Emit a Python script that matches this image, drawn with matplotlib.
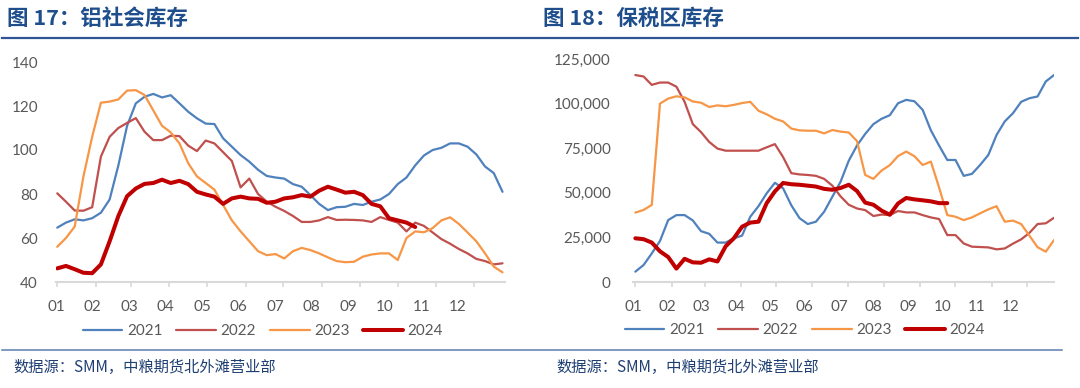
import numpy as np
import matplotlib.pyplot as plt
from matplotlib.lines import Line2D
from matplotlib.ticker import FuncFormatter

plt.rcParams['font.family'] = ['Lato', 'Noto Sans CJK SC', 'DejaVu Sans']

# 年份与样式
years = ['2021', '2022', '2023', '2024']
colors = ['#4F81BD', '#C0504D', '#F79646', '#C00000']
widths = [1.6, 1.6, 1.6, 2.9]

months = ['01', '02', '03', '04', '05', '06', '07', '08', '09', '10', '11', '12']
month_start = [0, 31, 59, 90, 120, 151, 181, 212, 243, 273, 304, 334]

# 图17：铝社会库存（万吨，周度）
al_2021 = [64.7, 67, 68.5, 68, 69, 71.5, 77.5, 93, 111, 121.2, 124.2, 125.5, 123.9,
           124.9, 121.2, 117.4, 114.4, 112, 111.8, 105.3, 101.5, 97.7, 94.7, 91, 88.2,
           87.5, 87, 84.5, 83.3, 79.5, 75.5, 72.7, 74, 74.2, 75.5, 75, 76.5, 77.5, 80,
           84.5, 87.5, 93, 97.5, 100, 101, 103, 103, 101.5, 98, 92.5, 89.5, 81]
al_2022 = [80.3, 76.5, 72.5, 72.4, 74, 97, 106, 110, 112.3, 114.5, 108.3, 104.5, 104.5,
           106.5, 106.3, 102, 99.5, 104.3, 103, 99, 95, 83, 87, 80, 76.5, 74.2, 72.3, 70,
           67.3, 67.3, 68, 69.5, 68.2, 68.3, 68.2, 68, 67.3, 69.5, 68.2, 67, 63, 67, 65.5,
           62.5, 59.5, 57.4, 55, 53, 50.5, 49.5, 48, 48.5]
al_2023 = [56, 60, 65.2, 88, 106, 121.5, 122, 123, 127, 127.2, 125, 118, 111, 108, 103,
           94, 88, 85, 82, 75, 68, 63, 58.5, 54, 52.2, 52.7, 50.7, 54, 55.5, 54.5, 53,
           51.2, 49.5, 49, 49.2, 51.5, 52.5, 53, 53, 50, 60, 63, 62.6, 64.5, 68, 69.4,
           66.4, 62.5, 58.5, 53, 47, 44.4]
al_2024 = [46.2, 47.3, 45.8, 44.2, 44, 48, 58.5, 70, 79, 82.5, 84.6, 85, 86.5, 85, 86,
           84.5, 81, 79.8, 78.8, 75.5, 78, 78.8, 78, 77.8, 76, 76.5, 78, 78.5, 79.5, 78.8,
           81.5, 83.3, 82, 80.6, 81, 79.5, 75.5, 74.4, 69, 68, 67, 65]

# 图18：保税区库存（吨，周度）
bond_2021 = [5800, 9500, 16000, 23000, 34700, 37500, 37500, 34500, 28500, 27000, 22100,
             22100, 24500, 26000, 36600, 42500, 49700, 55600, 52500, 43000, 35800, 32500,
             33800, 39400, 47800, 56200, 68000, 76500, 83000, 88500, 91500, 93500, 100200,
             102100, 101300, 96500, 85000, 76500, 68400, 68400, 59500, 60600, 65600, 71200,
             82400, 90000, 94600, 101000, 103000, 104000, 112400, 116000]
bond_2022 = [116000, 115200, 110500, 111800, 111800, 109500, 101000, 88500, 84000, 78500,
             74800, 73600, 73600, 73600, 73600, 73600, 75500, 77300, 70000, 61000, 60300,
             60000, 59500, 57800, 54000, 48000, 43300, 41200, 40300, 37000, 37800, 37500,
             39800, 39000, 39000, 37500, 36200, 35300, 26300, 26300, 21600, 19800, 19600,
             19400, 18300, 18800, 21500, 23900, 27500, 32500, 32900, 36000]
bond_2023 = [38900, 40400, 43200, 100000, 102800, 104100, 103500, 101200, 100500, 98100,
             99000, 98500, 99300, 100300, 101000, 96000, 94000, 91500, 90000, 86000, 85000,
             84800, 84800, 83300, 85200, 84300, 83800, 79000, 60000, 57800, 62500, 65500,
             70600, 73100, 70500, 65600, 67500, 53000, 37500, 36600, 34700, 36200, 38500,
             40700, 42500, 33800, 34400, 32500, 26000, 19500, 17000, 23500]
bond_2024 = [24500, 24000, 22100, 17200, 14000, 7500, 13000, 11000, 10800, 12700, 11500,
             20000, 24500, 31000, 33300, 33800, 44200, 50800, 55500, 54800, 54500, 54000,
             53500, 52200, 51700, 52700, 54500, 51000, 44500, 43300, 40000, 37700, 44000,
             47100, 46300, 45800, 45200, 44200, 44200]

W, H = 1080, 388
fig = plt.figure(figsize=(W / 100, H / 100), dpi=100)


def px_box(x0, x1, y_top, y_bot):
    return [x0 / W, 1 - y_bot / H, (x1 - x0) / W, (y_bot - y_top) / H]


def draw_panel(ax, series, xmax, ylim, yticks, ypad, label_shift):
    for vals, c, lw, yr in zip(series, colors, widths, years):
        days = np.arange(len(vals)) * 7
        ax.plot(days, vals, color=c, lw=lw, label=yr, solid_capstyle='round')
    ax.set_xlim(0, xmax)
    ax.set_ylim(*ylim)
    ax.set_yticks(yticks)
    for s in ['top', 'right', 'left']:
        ax.spines[s].set_visible(False)
    ax.spines['bottom'].set_color('#D9D9D9')
    ax.spines['bottom'].set_linewidth(1.5)
    ax.set_xticks(np.arange(12) * 29.3 + label_shift)
    ax.set_xticklabels(months)
    ax.set_xticks(month_start, minor=True)
    ax.tick_params(axis='x', which='major', length=0, pad=13, labelsize=11, labelcolor='#595959')
    ax.tick_params(axis='x', which='minor', length=3.8, width=1.2, color='#D9D9D9')
    ax.tick_params(axis='y', length=0, pad=ypad, labelsize=11, labelcolor='#595959')
    ax.patch.set_visible(False)


ax1 = fig.add_axes(px_box(56, 505, 62, 282))
draw_panel(ax1, [al_2021, al_2022, al_2023, al_2024], 359, (40, 140),
           range(40, 141, 20), 13, -1)

ax2 = fig.add_axes(px_box(633, 1054, 59, 282))
draw_panel(ax2, [bond_2021, bond_2022, bond_2023, bond_2024], 357, (0, 125000),
           range(0, 125001, 25000), 16, -2)
ax2.yaxis.set_major_formatter(FuncFormatter(lambda v, p: f'{int(v):,}'))

leg_kw = dict(loc='center', ncol=4, frameon=False, fontsize=11, handlelength=2.6,
              handletextpad=0.3, columnspacing=0.9, labelcolor='#595959')
ax1.legend(bbox_to_anchor=(263 / W, 1 - 331 / H), bbox_transform=fig.transFigure, **leg_kw)
ax2.legend(bbox_to_anchor=(805 / W, 1 - 330 / H), bbox_transform=fig.transFigure, **leg_kw)

cjk = ['Noto Sans CJK SC', 'DejaVu Sans']
title_color = '#1F4E8C'
fig.text(7 / W, 1 - 18 / H, '图 17：铝社会库存', family=cjk, fontsize=15.5,
         fontweight='bold', color=title_color, va='center', ha='left')
fig.text(543 / W, 1 - 18 / H, '图 18：保税区库存', family=cjk, fontsize=15.5,
         fontweight='bold', color=title_color, va='center', ha='left')

src_color = '#1F3F73'
fig.text(13 / W, 1 - 367 / H, '数据源：SMM，中粮期货北外滩营业部', family=cjk,
         fontsize=11, style='italic', color=src_color, va='center', ha='left')
fig.text(556 / W, 1 - 367 / H, '数据源：SMM，中粮期货北外滩营业部', family=cjk,
         fontsize=11, style='italic', color=src_color, va='center', ha='left')

fig.add_artist(Line2D([2 / W, 1078 / W], [1 - 38 / H, 1 - 38 / H],
                      color='#2F5597', lw=1.6, transform=fig.transFigure))
fig.add_artist(Line2D([2 / W, 1062 / W], [1 - 350 / H, 1 - 350 / H],
                      color='#5B7DB1', lw=1.1, transform=fig.transFigure))

fig.savefig('out.png', dpi=100)
